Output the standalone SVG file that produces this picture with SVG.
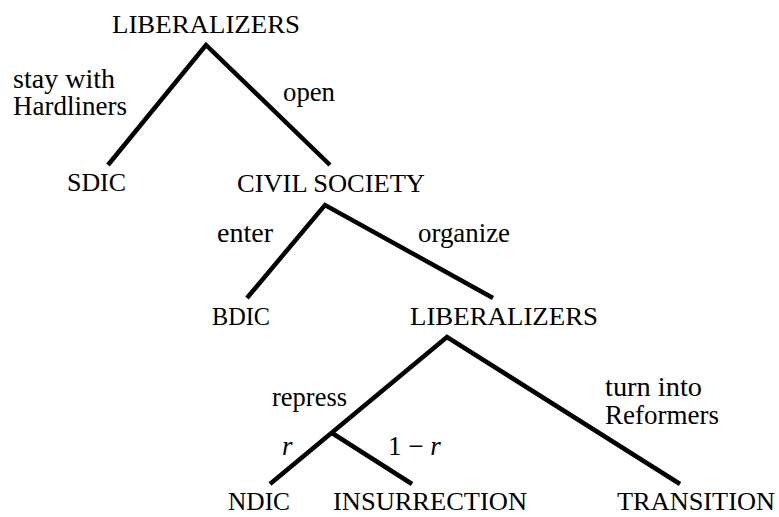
<svg xmlns="http://www.w3.org/2000/svg" width="779" height="517" viewBox="0 0 779 517">
<style>
.node{font-family:"Liberation Serif","Times New Roman",serif;font-size:26px;fill:#000}
.lbl{font-family:"Liberation Serif","Times New Roman",serif;font-size:27px;fill:#000}
.it{font-style:italic}
.edge{stroke:#000;stroke-width:4.5;fill:none;stroke-linecap:butt;stroke-linejoin:miter}
</style>
<rect width="779" height="517" fill="#fff"/>
<g id="connectors">
<polyline class="edge" points="108,165 206,45 330,165"/>
<polyline class="edge" points="247,298 325,205 493,298"/>
<polyline class="edge" points="270,484 447,337 680,484"/>
<line class="edge" x1="332" y1="433" x2="412" y2="484"/>
</g>
<g id="edge-labels">
<text class="lbl" x="13" y="88" textLength="102" lengthAdjust="spacingAndGlyphs">stay with</text>
<text class="lbl" x="13" y="115" textLength="114" lengthAdjust="spacingAndGlyphs">Hardliners</text>
<text class="lbl" x="283" y="101" textLength="52" lengthAdjust="spacingAndGlyphs">open</text>
<text class="lbl" x="217" y="242" textLength="56" lengthAdjust="spacingAndGlyphs">enter</text>
<text class="lbl" x="418" y="242" textLength="92" lengthAdjust="spacingAndGlyphs">organize</text>
<text class="lbl" x="272" y="406" textLength="75" lengthAdjust="spacingAndGlyphs">repress</text>
<text class="lbl" x="605" y="396" textLength="97" lengthAdjust="spacingAndGlyphs">turn into</text>
<text class="lbl" x="605" y="424" textLength="114" lengthAdjust="spacingAndGlyphs">Reformers</text>
<text class="lbl it" x="282" y="455">r</text>
<text class="lbl" x="388" y="455">1 − <tspan class="it">r</tspan></text>
</g>
<g id="n-liberalizers-1"><text class="node" x="112" y="33" textLength="188" lengthAdjust="spacingAndGlyphs">LIBERALIZERS</text></g>
<g id="n-sdic"><text class="node" x="67" y="191" textLength="59" lengthAdjust="spacingAndGlyphs">SDIC</text></g>
<g id="n-civil-society"><text class="node" x="237" y="192" textLength="188" lengthAdjust="spacingAndGlyphs">CIVIL SOCIETY</text></g>
<g id="n-bdic"><text class="node" x="212" y="325" textLength="58" lengthAdjust="spacingAndGlyphs">BDIC</text></g>
<g id="n-liberalizers-2"><text class="node" x="410" y="325" textLength="188" lengthAdjust="spacingAndGlyphs">LIBERALIZERS</text></g>
<g id="n-ndic"><text class="node" x="228" y="510" textLength="62" lengthAdjust="spacingAndGlyphs">NDIC</text></g>
<g id="n-insurrection"><text class="node" x="333" y="510" textLength="194" lengthAdjust="spacingAndGlyphs">INSURRECTION</text></g>
<g id="n-transition"><text class="node" x="617" y="510" textLength="158" lengthAdjust="spacingAndGlyphs">TRANSITION</text></g>
</svg>
